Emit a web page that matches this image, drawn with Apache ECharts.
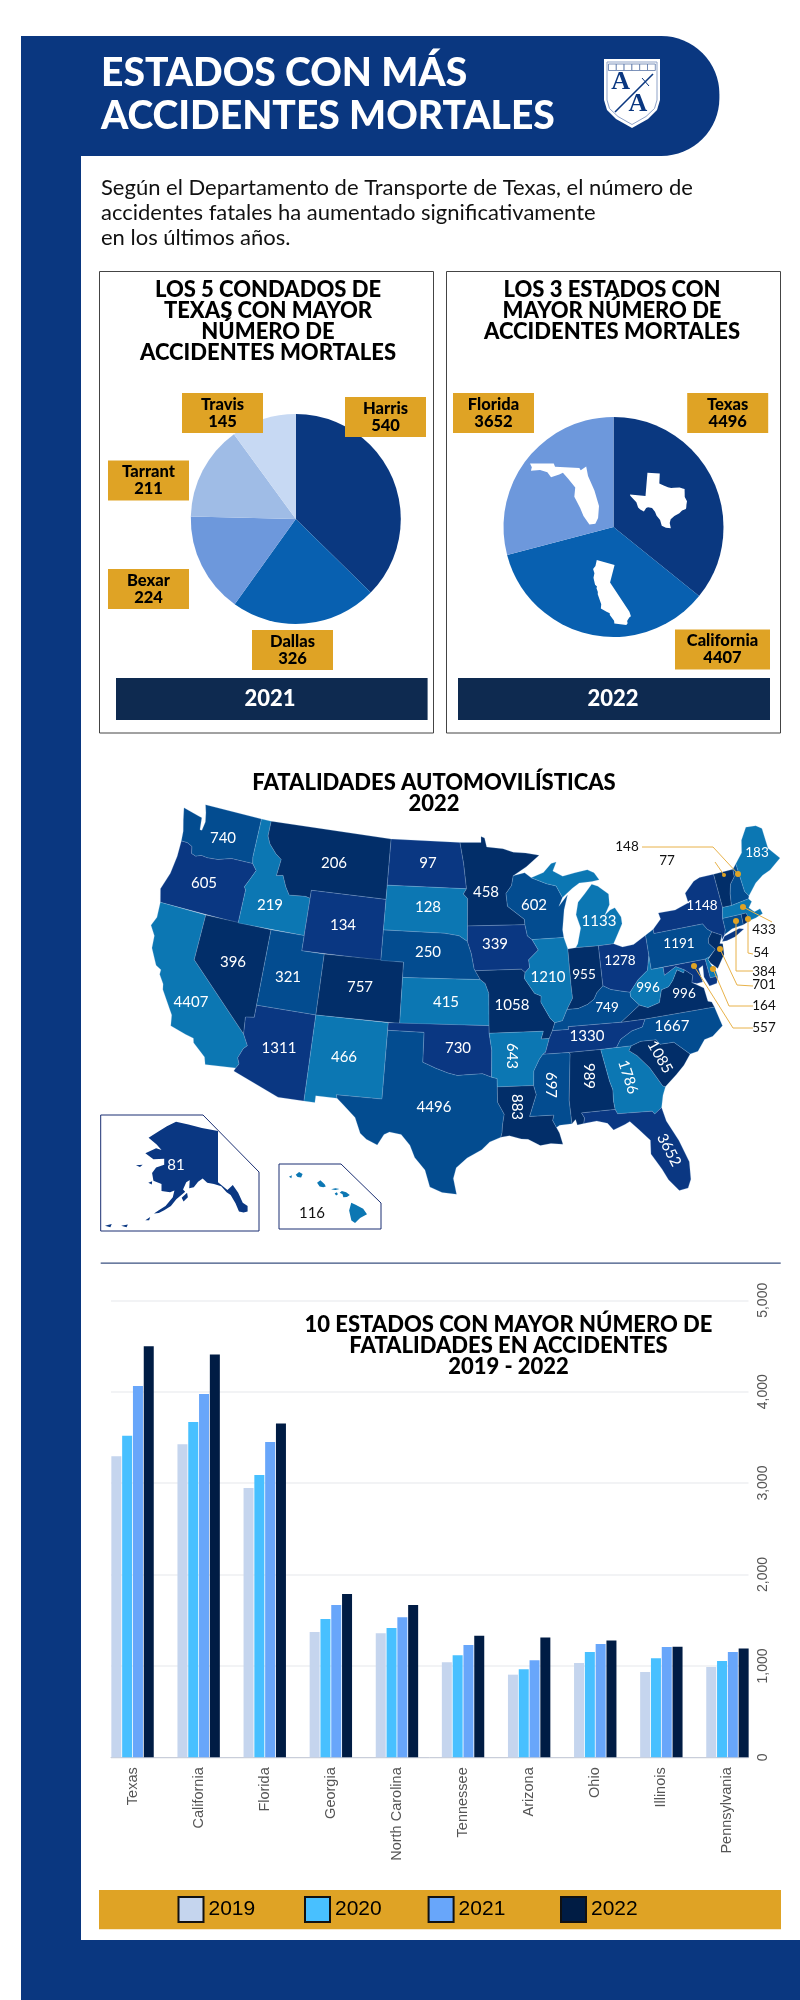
<!DOCTYPE html>
<html>
<head>
<meta charset="utf-8">
<style>
  html, body { margin: 0; padding: 0; background: #fff; }
  #page { width: 800px; height: 2000px; }
</style>
<script src="https://cdn.jsdelivr.net/npm/echarts@6/dist/echarts.min.js"></script>
</head>
<body>
<div id="page"></div>
<script>
// pies
const countyNames = ['Harris', 'Dallas', 'Bexar', 'Tarrant', 'Travis']
const countyValues = [540, 326, 224, 211, 145]
const topStateNames = ['Texas', 'California', 'Florida']
const topStateValues = [4496, 4407, 3652]

// bars
const barStates = ['Texas', 'California', 'Florida', 'Georgia', 'North Carolina', 'Tennessee', 'Arizona', 'Ohio', 'Illinois', 'Pennsylvania']
const years = ['2019', '2020', '2021', '2022']
const fatal2019 = [3293, 3424, 2946, 1371, 1356, 1039, 904, 1032, 933, 988]
const fatal2020 = [3519, 3668, 3088, 1513, 1414, 1116, 963, 1152, 1083, 1053]
const fatal2021 = [4062, 3975, 3449, 1666, 1531, 1229, 1061, 1239, 1207, 1152]
const fatal2022 = [4496, 4407, 3652, 1786, 1667, 1330, 1311, 1278, 1210, 1191]

// map values
const stateNames = ['WA', 'OR', 'CA', 'NV', 'ID', 'MT', 'WY', 'UT', 'AZ', 'CO', 'NM', 'ND', 'SD', 'NE', 'KS', 'OK', 'TX', 'MN', 'IA', 'MO', 'AR', 'LA', 'WI', 'IL', 'MI', 'IN', 'OH', 'KY', 'TN', 'MS', 'AL', 'GA', 'FL', 'SC', 'NC', 'VA', 'WV', 'PA', 'NY', 'VT', 'NH', 'ME', 'MA', 'CT', 'RI', 'NJ', 'DE', 'MD']
const stateValues = [740, 605, 4407, 396, 219, 206, 134, 321, 1311, 757, 466, 97, 128, 250, 415, 730, 4496, 458, 339, 1058, 643, 883, 602, 1210, 1133, 955, 1278, 749, 1330, 697, 989, 1786, 3652, 1085, 1667, 996, 996, 1191, 1148, 77, 148, 183, 433, 384, 54, 701, 164, 557]
const alaskaValue = 81
const hawaiiValue = 116
const calloutStates = ['NH', 'VT', 'MA', 'RI', 'CT', 'NJ', 'DE', 'MD']

const BLUE = '#0A3780'
const GOLD = '#DFA325'
const NAVY = '#0E2A50'
const HEAD = 'Lato, sans-serif'
const SHADE = { l: '#0C77B3', m: '#034C90', n: '#0A3782', d: '#022E69' }
const STATE_SHADE = {
  WA: 'm', OR: 'n', CA: 'l', NV: 'd', ID: 'l', MT: 'd', WY: 'n', UT: 'm', AZ: 'n', CO: 'd', NM: 'l', ND: 'n', SD: 'l', NE: 'm', KS: 'l', OK: 'n', TX: 'm',
  MN: 'd', IA: 'n', MO: 'd', AR: 'l', LA: 'd', WI: 'm', IL: 'l', MI: 'l', IN: 'd', OH: 'n', KY: 'm', TN: 'n', MS: 'm', AL: 'd', GA: 'l', FL: 'n', SC: 'd',
  NC: 'm', VA: 'd', WV: 'l', PA: 'm', NY: 'n', VT: 'd', NH: 'm', ME: 'l', MA: 'l', CT: 'm', RI: 'd', NJ: 'd', DE: 'l', MD: 'n'
}
const LABEL_ROTATE = { AR: -90, LA: -90, MS: -90, AL: -90, GA: -72, SC: -60, FL: -62 }
const SMALL_LABEL = ['IN', 'OH', 'WV', 'VA', 'KY', 'PA', 'NY', 'ME']

// simplified outlines, lon/lat
const OUTLINES = {
  WA: [[[-124.7,48.4],[-123.1,48.15],[-122.75,48.1],[-122.6,47.3],[-122.4,47.3],[-122.3,47.9],[-122.5,48.5],[-122.75,49],[-117.03,49],[-117.04,46.42],[-116.92,46],[-118.98,46],[-119.3,45.93],[-120.2,45.72],[-121.2,45.65],[-121.8,45.7],[-122.3,45.55],[-122.75,45.65],[-122.9,46.1],[-123.4,46.25],[-124,46.25],[-124.1,46.9],[-124.4,47.6]]],
  OR: [[[-124,46.25],[-123.4,46.25],[-122.9,46.1],[-122.75,45.65],[-122.3,45.55],[-121.8,45.7],[-121.2,45.65],[-120.2,45.72],[-119.3,45.93],[-118.98,46],[-116.92,46],[-116.46,45.6],[-116.85,44.95],[-117.2,44.4],[-117.03,44.2],[-117.03,42],[-124.2,42],[-124.55,42.85],[-124.1,44],[-123.95,45.2]]],
  CA: [[[-124.2,42],[-120,42],[-120,39],[-114.63,35],[-114.15,34.3],[-114.43,34.05],[-114.72,33.4],[-114.52,33.03],[-114.72,32.72],[-117.12,32.53],[-117.3,33],[-118.4,33.75],[-118.5,34.03],[-119.2,34.15],[-120.5,34.45],[-120.65,35.15],[-121.9,36.6],[-122,36.95],[-122.5,37.5],[-122.5,37.8],[-123,38],[-123.75,39],[-123.85,39.8],[-124.4,40.4],[-124.1,41]]],
  NV: [[[-120,42],[-114.04,42],[-114.04,36.2],[-114.75,36.1],[-114.63,35],[-120,39]]],
  ID: [[[-117.03,49],[-116.05,49],[-116.05,48],[-115.7,47.5],[-114.95,46.95],[-114.35,46.65],[-114.5,45.55],[-113.9,45.65],[-113.45,44.95],[-113,44.45],[-111.5,44.55],[-111.05,44.48],[-111.05,42],[-117.03,42],[-117.03,44.2],[-117.2,44.4],[-116.85,44.95],[-116.46,45.6],[-116.92,46],[-117.04,46.42]]],
  MT: [[[-116.05,49],[-104.05,49],[-104.05,45],[-111.05,45],[-111.05,44.48],[-111.5,44.55],[-113,44.45],[-113.45,44.95],[-113.9,45.65],[-114.5,45.55],[-114.35,46.65],[-114.95,46.95],[-115.7,47.5],[-116.05,48]]],
  WY: [[[-111.05,45],[-104.05,45],[-104.05,41],[-111.05,41]]],
  UT: [[[-114.04,42],[-111.05,42],[-111.05,41],[-109.05,41],[-109.05,37],[-114.04,37]]],
  AZ: [[[-114.04,37],[-109.05,37],[-109.05,31.33],[-111.07,31.33],[-114.82,32.5],[-114.72,32.72],[-114.52,33.03],[-114.72,33.4],[-114.43,34.05],[-114.15,34.3],[-114.63,35],[-114.75,36.1],[-114.04,36.2]]],
  CO: [[[-109.05,41],[-102.05,41],[-102.05,37],[-109.05,37]]],
  NM: [[[-109.05,37],[-103,37],[-103.05,32],[-106.62,32],[-106.53,31.78],[-108.2,31.78],[-108.2,31.33],[-109.05,31.33]]],
  ND: [[[-104.05,49],[-97.23,49],[-96.85,47.6],[-96.56,45.94],[-104.05,45.94]]],
  SD: [[[-104.05,45.94],[-96.56,45.94],[-96.85,45.6],[-96.45,45.3],[-96.45,43.5],[-96.45,42.49],[-97.2,42.85],[-98.5,43],[-104.05,43]]],
  NE: [[[-104.05,43],[-98.5,43],[-97.2,42.85],[-96.45,42.49],[-96.1,41.7],[-95.85,40.7],[-95.31,40],[-102.05,40],[-102.05,41],[-104.05,41]]],
  KS: [[[-102.05,40],[-95.31,40],[-94.9,39.75],[-94.6,39.1],[-94.62,37],[-102.05,37]]],
  OK: [[[-103,37],[-94.62,37],[-94.62,36.5],[-94.43,35.4],[-94.48,33.64],[-95.2,33.87],[-96.5,33.8],[-97.2,33.75],[-97.95,33.9],[-98.95,34.2],[-100,34.56],[-100,36.5],[-103,36.5]]],
  TX: [[[-103,36.5],[-100,36.5],[-100,34.56],[-98.95,34.2],[-97.95,33.9],[-97.2,33.75],[-96.5,33.8],[-95.2,33.87],[-94.48,33.64],[-94.04,33.55],[-94.04,33],[-94.04,32],[-93.55,31.2],[-93.7,30.5],[-93.75,30],[-93.85,29.7],[-94.7,29.4],[-95.3,28.9],[-96.4,28.35],[-97.2,27.7],[-97.4,27],[-97.15,25.95],[-98.2,26.05],[-99.1,26.4],[-99.5,27.5],[-100.3,28.3],[-100.7,29.1],[-101.4,29.77],[-102.3,29.88],[-102.7,29.7],[-103.15,28.98],[-104,29.3],[-104.5,29.65],[-105,30.65],[-106,31.4],[-106.53,31.78],[-106.62,32],[-103.05,32]]],
  MN: [[[-97.23,49],[-95.15,49],[-95.15,49.4],[-94.8,49.3],[-94.6,48.7],[-93,48.55],[-92,48.3],[-90.8,48.2],[-89.5,48],[-90.8,47.3],[-92.1,46.75],[-92.3,46.1],[-92.85,45.6],[-92.75,44.75],[-91.25,43.85],[-91.22,43.5],[-96.45,43.5],[-96.45,45.3],[-96.85,45.6],[-96.56,45.94],[-96.85,47.6]]],
  IA: [[[-96.45,43.5],[-91.22,43.5],[-91.05,42.75],[-90.65,42.5],[-90.15,41.8],[-91.05,41.2],[-91,40.7],[-91.42,40.38],[-91.73,40.61],[-95.77,40.58],[-95.85,40.7],[-96.1,41.7],[-96.45,42.49]]],
  MO: [[[-95.77,40.58],[-91.73,40.61],[-91.42,40.38],[-91.5,40],[-90.7,39],[-90.15,38.8],[-90.2,38.4],[-89.5,37.3],[-89.15,37],[-89.4,36.5],[-89.7,36],[-90.37,36],[-90.15,36.5],[-94.62,36.5],[-94.62,37],[-94.6,39.1],[-94.9,39.75],[-95.31,40]]],
  AR: [[[-94.62,36.5],[-90.15,36.5],[-90.37,36],[-89.7,36],[-90.07,35.13],[-90.3,35],[-90.6,34.7],[-91.1,33.95],[-91.17,33],[-94.04,33],[-94.04,33.55],[-94.48,33.64],[-94.43,35.4]]],
  LA: [[[-94.04,33],[-91.17,33],[-91,32.4],[-91.6,31],[-89.73,31],[-89.85,30.65],[-89.6,30.18],[-89.4,29.8],[-89.2,29.05],[-90.1,29.15],[-90.9,29.05],[-91.8,29.5],[-92.3,29.55],[-93.2,29.78],[-93.85,29.7],[-93.75,30],[-93.7,30.5],[-93.55,31.2],[-94.04,32]]],
  MS: [[[-90.3,35],[-88.2,35],[-88.1,34.9],[-88.47,31.9],[-88.4,30.35],[-89.35,30.3],[-89.6,30.18],[-89.85,30.65],[-89.73,31],[-91.6,31],[-91,32.4],[-91.17,33],[-91.1,33.95],[-90.6,34.7]]],
  AL: [[[-88.2,35],[-85.6,35],[-85.18,32.87],[-85,32.3],[-85.05,31.55],[-85,31],[-87.6,31],[-87.4,30.65],[-87.5,30.3],[-88,30.23],[-88.1,30.6],[-88.4,30.35],[-88.47,31.9],[-88.1,34.9]]],
  GA: [[[-85.6,35],[-83.1,35],[-83.35,34.7],[-82.75,34.3],[-81.9,33.4],[-81.4,32.6],[-81.1,32.1],[-80.9,32.03],[-81.2,31.5],[-81.45,30.72],[-82.05,30.36],[-82.2,30.57],[-84.86,30.7],[-85,31],[-85.05,31.55],[-85,32.3],[-85.18,32.87]]],
  FL: [[[-87.6,31],[-85,31],[-84.86,30.7],[-82.2,30.57],[-82.05,30.36],[-81.45,30.72],[-81.25,29.8],[-80.55,28.4],[-80.05,26.9],[-80.15,25.75],[-80.45,25.2],[-81.1,25.13],[-81.75,25.95],[-82.1,26.7],[-82.75,27.8],[-82.65,28.7],[-83.4,29.5],[-84,30.1],[-84.4,29.95],[-85.3,29.68],[-85.7,30.15],[-86.5,30.38],[-87.5,30.3],[-87.4,30.65]]],
  SC: [[[-83.35,34.7],[-83.1,35],[-82.3,35.2],[-81.05,35.15],[-80.8,34.82],[-79.67,34.8],[-78.55,33.86],[-79.2,33.2],[-79.9,32.7],[-80.9,32.03],[-81.1,32.1],[-81.4,32.6],[-81.9,33.4],[-82.75,34.3]]],
  NC: [[[-75.87,36.55],[-81.68,36.59],[-82,36.1],[-82.9,35.95],[-83.9,35.5],[-84.32,35],[-83.1,35],[-82.3,35.2],[-81.05,35.15],[-80.8,34.82],[-79.67,34.8],[-78.55,33.86],[-77.9,33.93],[-77.2,34.6],[-76.5,34.7],[-75.55,35.25]]],
  TN: [[[-89.4,36.5],[-88.05,36.5],[-88.07,36.68],[-83.68,36.6],[-81.68,36.59],[-82,36.1],[-82.9,35.95],[-83.9,35.5],[-84.32,35],[-85.6,35],[-88.2,35],[-90.3,35],[-90.07,35.13],[-89.7,36]]],
  KY: [[[-89.4,36.5],[-89.15,37],[-88.5,37.1],[-88.05,37.8],[-87.1,37.8],[-86.3,38],[-85.7,38.3],[-85.4,38.7],[-84.82,39.1],[-84.2,38.8],[-83.3,38.6],[-82.6,38.45],[-82.6,38.15],[-81.97,37.54],[-83.68,36.6],[-88.07,36.68],[-88.05,36.5]]],
  VA: [[[-83.68,36.6],[-81.97,37.54],[-81.3,37.3],[-80.3,37.5],[-79.95,38.3],[-79.3,38.42],[-78.87,38.77],[-78.35,39.4],[-77.83,39.13],[-77.72,39.32],[-77.1,38.85],[-77.3,38.4],[-76.4,37.9],[-76.3,37],[-76,36.9],[-75.87,36.55],[-81.68,36.59]]],
  WV: [[[-81.97,37.54],[-82.6,38.15],[-82.6,38.45],[-81.75,39.2],[-80.85,39.7],[-80.52,40.64],[-80.52,39.72],[-79.48,39.72],[-79.48,39.2],[-78.4,39.62],[-77.72,39.32],[-77.83,39.13],[-78.35,39.4],[-78.87,38.77],[-79.3,38.42],[-79.95,38.3],[-80.3,37.5],[-81.3,37.3]]],
  OH: [[[-84.82,39.1],[-84.8,41.72],[-83.45,41.73],[-82.7,41.45],[-81.7,41.5],[-80.52,41.98],[-80.52,40.64],[-80.85,39.7],[-81.75,39.2],[-82.6,38.45],[-83.3,38.6],[-84.2,38.8]]],
  IN: [[[-87.53,41.72],[-86.82,41.76],[-84.8,41.72],[-84.82,39.1],[-85.4,38.7],[-85.7,38.3],[-86.3,38],[-87.1,37.8],[-88.05,37.8],[-87.5,38.5],[-87.53,39.35]]],
  IL: [[[-90.65,42.5],[-87.8,42.49],[-87.53,41.72],[-87.53,39.35],[-87.5,38.5],[-88.05,37.8],[-88.5,37.1],[-89.15,37],[-89.5,37.3],[-90.2,38.4],[-90.15,38.8],[-90.7,39],[-91.5,40],[-91.42,40.38],[-91,40.7],[-91.05,41.2],[-90.15,41.8]]],
  WI: [[[-92.1,46.75],[-91,46.9],[-90.4,46.55],[-89,46.1],[-88.1,45.9],[-87.6,45.1],[-88,44.55],[-87.1,45.25],[-87.55,44.3],[-87.85,43],[-87.8,42.49],[-90.65,42.5],[-91.05,42.75],[-91.22,43.5],[-91.25,43.85],[-92.75,44.75],[-92.85,45.6],[-92.3,46.1]]],
  MI: [[[-90.4,46.55],[-89.2,46.85],[-88.4,47.4],[-87.9,47.47],[-88.3,46.9],[-87.4,46.5],[-86.2,46.65],[-85,46.75],[-84.4,46.5],[-84,46],[-84.7,45.95],[-85.9,45.95],[-86.6,45.65],[-87.6,45.1],[-88.1,45.9],[-89,46.1]],
       [[-86.82,41.76],[-84.8,41.72],[-83.45,41.73],[-83.15,42.1],[-82.45,42.95],[-82.45,43.4],[-82.9,44.05],[-83.35,43.95],[-83.9,43.65],[-83.35,44.3],[-83.3,45],[-84.2,45.6],[-84.75,45.78],[-85.5,45.2],[-86.2,44.7],[-86.5,43.9],[-86.2,43],[-86.6,42]]],
  PA: [[[-80.52,41.98],[-79.76,42.27],[-79.76,42],[-75.35,42],[-75.05,41.6],[-74.7,41.36],[-75.13,40.97],[-75.2,40.68],[-74.75,40.2],[-75.4,39.8],[-75.79,39.72],[-80.52,39.72],[-80.52,40.64]]],
  NY: [[[-79.76,42.27],[-79.76,42],[-75.35,42],[-75.05,41.6],[-74.7,41.36],[-73.9,41],[-74,40.7],[-73.65,41],[-73.5,41.3],[-73.5,42.05],[-73.27,42.75],[-73.35,45],[-74.7,45],[-75.3,44.85],[-76.3,44.2],[-76.2,43.55],[-77.5,43.25],[-79.05,43.27],[-78.95,42.85]],
       [[-74,40.6],[-73.7,40.9],[-72.3,41.15],[-71.9,41.05],[-72.8,40.7],[-73.6,40.58]]],
  VT: [[[-73.35,45],[-71.5,45],[-71.55,44.5],[-72.05,44.1],[-72.3,43.5],[-72.45,42.73],[-73.27,42.75]]],
  NH: [[[-71.5,45],[-71.1,45.3],[-70.98,43.4],[-70.7,43.05],[-70.82,42.87],[-72.45,42.73],[-72.3,43.5],[-72.05,44.1],[-71.55,44.5]]],
  ME: [[[-71.1,45.3],[-70.3,45.9],[-70,46.7],[-69.25,47.45],[-68.3,47.35],[-67.8,47.07],[-67.8,45.7],[-67,44.85],[-68.2,44.3],[-69,44.1],[-69.8,43.75],[-70.7,43.05],[-70.98,43.4]]],
  MA: [[[-73.27,42.75],[-72.45,42.73],[-70.82,42.87],[-70.6,42.65],[-71,42.3],[-70.6,41.95],[-70.05,42.05],[-69.95,41.7],[-70.65,41.55],[-71.12,41.5],[-71.38,42.02],[-71.8,42.02],[-73.5,42.05]]],
  CT: [[[-73.5,42.05],[-71.8,42.02],[-71.85,41.32],[-72.9,41.25],[-73.65,41],[-73.5,41.3]]],
  RI: [[[-71.8,42.02],[-71.38,42.02],[-71.12,41.5],[-71.85,41.32]]],
  NJ: [[[-74.7,41.36],[-73.9,41],[-74.25,40.5],[-74,40.45],[-74.1,39.75],[-74.9,38.95],[-75.4,39.4],[-75.55,39.65],[-74.75,40.2],[-75.2,40.68],[-75.13,40.97]]],
  DE: [[[-75.79,39.72],[-75.4,39.8],[-75.55,39.65],[-75.4,39.3],[-75.1,38.8],[-75.05,38.45],[-75.7,38.46]]],
  MD: [[[-79.48,39.72],[-75.79,39.72],[-75.7,38.46],[-75.05,38.45],[-75.25,38.03],[-75.9,37.95],[-76.2,38.6],[-76.1,39.35],[-76.5,39.2],[-76.4,38.3],[-76.9,38.28],[-77.3,38.4],[-77.1,38.85],[-77.72,39.32],[-78.4,39.62],[-79.48,39.2]]]
}
const ALASKA = [
  [[-141,69.65],[-141,60.3],[-137.5,58.9],[-135.5,59.8],[-133.5,58.4],[-131.8,56.6],[-130,56],[-130,55],[-131.5,54.8],[-133.2,55],[-134.5,56.5],[-136.3,58],[-137.8,58.5],[-139.8,59.6],[-142.5,60],[-145,60.2],[-146.7,61],[-148.4,60.4],[-150,59.4],[-151.7,59.2],[-151.5,60.8],[-150,61.2],[-152.8,60.3],[-154,59],[-153.2,58.6],[-156.5,57.2],[-158.5,56],[-161,55.2],[-163,54.7],[-164.8,54.6],[-163,55.2],[-160.5,56],[-157.8,57.6],[-157.2,58.8],[-158.8,58.5],[-162,58.7],[-162,60],[-165,60.6],[-165.5,62],[-164,63],[-161,63.5],[-161,64.6],[-165,64.5],[-168,65.6],[-164,66.5],[-162,66.2],[-163.8,67.2],[-166.8,68.4],[-163,69.6],[-160,70.5],[-156.6,71.35],[-152,70.85],[-147,70.2]],
  [[-154.5,57.5],[-152.5,58.4],[-152.2,57.6],[-153.8,56.8]],
  [[-168,53.4],[-166.2,54],[-166.6,53.4]],
  [[-177,52.4],[-174.5,52.6],[-175,52.1]],
  [[-183,52.4],[-180.5,52.7],[-181,52.1]],
  [[-166.9,60.2],[-165.5,60.5],[-165.6,59.9]],
  [[-171.5,63.4],[-169,63.5],[-170,63.1]]
]
const HAWAII = [
  [[-160.25,21.9],[-160.05,22],[-160.08,21.82]],
  [[-159.78,22.05],[-159.55,22.23],[-159.3,22.1],[-159.4,21.88],[-159.65,21.9]],
  [[-158.28,21.55],[-158.05,21.7],[-157.75,21.45],[-157.67,21.3],[-157.85,21.26],[-158.1,21.3]],
  [[-157.3,21.12],[-157,21.2],[-156.72,21.15],[-157,21.08]],
  [[-157.05,20.85],[-156.9,20.93],[-156.82,20.8],[-156.95,20.73]],
  [[-156.7,20.9],[-156.55,21.02],[-156.25,20.93],[-156,20.75],[-156.2,20.62],[-156.45,20.6],[-156.5,20.8]],
  [[-155.9,20.25],[-155.6,20.12],[-155.08,19.85],[-154.82,19.5],[-155.3,19.25],[-155.65,18.93],[-155.9,19.1],[-156.05,19.75]]
]

function albers(lon0, lat0, p1, p2) {
  const rad = Math.PI / 180
  const n = (Math.sin(p1 * rad) + Math.sin(p2 * rad)) / 2
  const c = Math.cos(p1 * rad) ** 2 + 2 * n * Math.sin(p1 * rad)
  const rho0 = Math.sqrt(c - 2 * n * Math.sin(lat0 * rad)) / n
  return {
    project: ([lon, lat]) => {
      const rho = Math.sqrt(c - 2 * n * Math.sin(lat * rad)) / n
      const th = n * (lon - lon0) * rad
      return [rho * Math.sin(th), -(rho0 - rho * Math.cos(th))]
    },
    unproject: ([x, y]) => {
      const yy = rho0 + y
      const rho = Math.sqrt(x * x + yy * yy)
      const th = Math.atan2(x, yy)
      return [lon0 + th / n / rad, Math.asin((c - (rho * n) ** 2) / (2 * n)) / rad]
    }
  }
}
function plate(kx) {
  return {
    project: ([lon, lat]) => [lon * kx, -lat],
    unproject: ([x, y]) => [x / kx, -y]
  }
}
const usProjection = albers(-96, 37.5, 29.5, 45.5)
const alaskaProjection = plate(0.49)
const hawaiiProjection = albers(-157, 20, 18, 24)

const US_BOX = { center: [465.5, 999.5], size: 629 }
const AK_BOX = { center: [176.3, 1174.5], size: 142.6 }
const HI_BOX = { center: [328, 1197.5], size: 78 }

// where each value sits on the page, turned back into lon/lat for the region's cp
const LABEL_AT = {
  WA: [223,838], OR: [204,883], ID: [270,905], MT: [334,863], ND: [428,863], MN: [486,892], WI: [534,905], MI: [599,921], SD: [428,907], WY: [343,925],
  NE: [428,952], IA: [495,944], NV: [233,962], UT: [288,977], CO: [360,987], CA: [191,1002], KS: [446,1002], MO: [512,1005], IL: [548,977], IN: [584,975],
  OH: [620,961], PA: [679,944], NY: [702,906], ME: [757,853], KY: [607,1008], WV: [648,988], VA: [684,994], NC: [672,1026], TN: [587,1036], AZ: [279,1048],
  NM: [344,1057], OK: [458,1048], AR: [512,1056], MS: [551,1085], AL: [589,1076], GA: [628,1077], SC: [660,1057], LA: [517,1107], TX: [434,1107], FL: [669,1150],
  AK: [176,1165], HI: [312,1213]
}
function pageToGeo(at, rings, projection, box) {
  let x0 = Infinity, x1 = -Infinity, y0 = Infinity, y1 = -Infinity
  rings.forEach(ring => ring.forEach(p => {
    const q = projection.project(p)
    x0 = Math.min(x0, q[0]); x1 = Math.max(x1, q[0])
    y0 = Math.min(y0, q[1]); y1 = Math.max(y1, q[1])
  }))
  const k = box.size / Math.max(x1 - x0, y1 - y0)
  return projection.unproject([(x0 + x1) / 2 + (at[0] - box.center[0]) / k, (y0 + y1) / 2 + (at[1] - box.center[1]) / k])
}
const allRings = stateNames.reduce((acc, n) => acc.concat(OUTLINES[n]), [])

function feature(name, rings, cp) {
  return {
    type: 'Feature',
    properties: { name, cp },
    geometry: { type: 'MultiPolygon', coordinates: rings.map(r => [r.concat([r[0]])]) }
  }
}
function registerShape(mapName, features) {
  echarts.registerMap(mapName, { type: 'FeatureCollection', features })
}
registerShape('us48', stateNames.map(n => feature(n, OUTLINES[n], LABEL_AT[n] && pageToGeo(LABEL_AT[n], allRings, usProjection, US_BOX))))
registerShape('alaska', [feature('AK', ALASKA, pageToGeo(LABEL_AT.AK, ALASKA, alaskaProjection, AK_BOX))])
registerShape('hawaii', [feature('HI', HAWAII, pageToGeo(LABEL_AT.HI, HAWAII, hawaiiProjection, HI_BOX))])
registerShape('shapeTX', [feature('TX', OUTLINES.TX)])
registerShape('shapeCA', [feature('CA', OUTLINES.CA)])
registerShape('shapeFL', [feature('FL', OUTLINES.FL)])

function text(str, x, y, font, fill, extra) {
  return Object.assign({
    type: 'text', x, y, silent: true, z: 30,
    style: { text: str, font, fill, align: 'center', verticalAlign: 'middle' }
  }, extra)
}
function leftText(str, x, y, font, fill) {
  return {
    type: 'text', x, y, silent: true, z: 30,
    style: { text: str, font, fill, align: 'left', verticalAlign: 'middle' }
  }
}
function rect(x, y, w, h, fill, extra) {
  return Object.assign({ type: 'rect', silent: true, shape: { x, y, width: w, height: h }, style: { fill } }, extra)
}
function headingLines(lines, cx, top, step, size) {
  return lines.map((l, i) => text(l, cx, top + i * step, `900 ${size}px ${HEAD}`, '#000'))
}

function logo() {
  const ink = BLUE
  const shield = [[604, 59], [660, 59], [660, 100], [657, 110], [648, 119], [632, 128], [616, 119], [607, 110], [604, 100]]
  const inner = [[607, 62], [657, 62], [657, 100], [654.5, 108.5], [646, 116.5], [632, 124.5], [618, 116.5], [609.5, 108.5], [607, 100]]
  const out = [
    { type: 'polygon', silent: true, z: 30, shape: { points: shield }, style: { fill: '#fff' } },
    { type: 'polygon', silent: true, z: 31, shape: { points: inner }, style: { fill: 'none', stroke: '#8FA3C8', lineWidth: 1 } },
    { type: 'line', silent: true, z: 31, shape: { x1: 653, y1: 74, x2: 615, y2: 112 }, style: { stroke: ink, lineWidth: 1.6 } },
    { type: 'line', silent: true, z: 31, shape: { x1: 642, y1: 78, x2: 649, y2: 86 }, style: { stroke: ink, lineWidth: 1 } },
    text('A', 620.7, 82, 'bold 26px "Liberation Serif"', ink, { z: 31 }),
    text('A', 638, 104, 'bold 26px "Liberation Serif"', ink, { z: 31 })
  ]
  for (let i = 0; i < 6; i++) {
    out.push({ type: 'rect', silent: true, z: 31, shape: { x: 608.5 + i * 7.8, y: 64, width: 7.8, height: 6.5 }, style: { fill: '#fff', stroke: '#5C77A8', lineWidth: 0.8 } })
  }
  return out
}

// leader lines for the small north-eastern states
const CALLOUT_LAYOUT = {
  NH: { text: [627, 847], pts: [[642, 847], [713, 847], [738, 874]], r: 3 },
  VT: { text: [667, 861], pts: [[715, 862], [724, 875]], r: 2 },
  MA: { text: [764, 930], pts: [[772, 922], [743, 907]], r: 3 },
  RI: { text: [761, 953], pts: [[753, 954], [748, 953], [748, 919]], r: 3 },
  CT: { text: [764, 972], pts: [[753, 971], [736, 971], [736, 921]], r: 3 },
  NJ: { text: [764, 985], pts: [[753, 986], [737, 985], [720, 949]], r: 3 },
  DE: { text: [764, 1006], pts: [[753, 1006], [729, 1006], [713, 969]], r: 3 },
  MD: { text: [764, 1028], pts: [[753, 1028], [733, 1028], [694, 966]], r: 3 }
}
function callouts() {
  const out = []
  calloutStates.forEach(s => {
    const c = CALLOUT_LAYOUT[s]
    const end = c.pts[c.pts.length - 1]
    out.push({ type: 'polyline', silent: true, z: 30, shape: { points: c.pts }, style: { stroke: '#E8B24A', lineWidth: 1, fill: 'none' } })
    out.push({ type: 'circle', silent: true, z: 31, shape: { cx: end[0], cy: end[1], r: c.r }, style: { fill: GOLD } })
    out.push(text(String(stateValues[stateNames.indexOf(s)]), c.text[0], c.text[1], `13.5px ${HEAD}`, '#111'))
  })
  return out
}

const background = [
  rect(21, 36, 60, 1964, BLUE),
  rect(21, 1940, 779, 60, BLUE),
  { type: 'rect', silent: true, shape: { x: 21, y: 36, width: 698.4, height: 120, r: [0, 58, 58, 0] }, style: { fill: BLUE } },
  { type: 'rect', silent: true, shape: { x: 99.5, y: 271.5, width: 334, height: 461.5 }, style: { fill: '#fff', stroke: '#444', lineWidth: 1 } },
  { type: 'rect', silent: true, shape: { x: 446.5, y: 271.5, width: 334, height: 461.5 }, style: { fill: '#fff', stroke: '#444', lineWidth: 1 } },
  rect(116, 678, 311.6, 42, NAVY),
  rect(458, 678, 312, 42, NAVY),
  rect(100.7, 1262.5, 680, 1.2, '#3A5180'),
  rect(99, 1890, 682, 39.3, GOLD),
  { type: 'polygon', silent: true, shape: { points: [[100.7, 1115], [203, 1115], [259, 1172], [259, 1231], [100.7, 1231]] }, style: { fill: '#fff', stroke: '#1B2F73', lineWidth: 1 } },
  { type: 'polygon', silent: true, shape: { points: [[279, 1164], [341, 1164], [381, 1203], [381, 1229], [279, 1229]] }, style: { fill: '#fff', stroke: '#1B2F73', lineWidth: 1 } }
]

const titleText = [
  leftText('ESTADOS CON MÁS', 101, 73.5, `900 39px ${HEAD}`, '#fff'),
  leftText('ACCIDENTES MORTALES', 101, 116.5, `900 39px ${HEAD}`, '#fff')
]
const introLines = ['Según el Departamento de Transporte de Texas, el número de', 'accidentes fatales ha aumentado significativamente', 'en los últimos años.']
const introText = introLines.map((l, i) => leftText(l, 101, 188 + i * 25, `22px ${HEAD}`, '#111'))

const headings = [].concat(
  headingLines(['LOS 5 CONDADOS DE', 'TEXAS CON MAYOR', 'NÚMERO DE', 'ACCIDENTES MORTALES'], 268, 290, 21, 22),
  headingLines(['LOS 3 ESTADOS CON', 'MAYOR NÚMERO DE', 'ACCIDENTES MORTALES'], 612, 290, 21, 22),
  headingLines(['FATALIDADES AUTOMOVILÍSTICAS', '2022'], 434, 783, 20.5, 22),
  headingLines(['10 ESTADOS CON MAYOR NÚMERO DE', 'FATALIDADES EN ACCIDENTES', '2019 - 2022'], 508.5, 1325, 21, 22),
  [text('2021', 270, 699, `900 22px ${HEAD}`, '#fff'), text('2022', 613, 699, `900 22px ${HEAD}`, '#fff')]
)

const PIE_LABEL_COUNTY = [[385.5, 417], [292.5, 650], [148.5, 589], [148.5, 480.5], [222.5, 413]]
const PIE_LABEL_STATE = [[727.7, 413], [722.5, 649.5], [493.5, 413]]

function pieSeries(names, values, colors, center, radius, labelPos) {
  return {
    type: 'pie',
    center,
    radius,
    startAngle: 90,
    silent: true,
    data: names.map((n, i) => ({
      name: n,
      value: values[i],
      itemStyle: { color: colors[i] },
      label: { width: n === 'California' ? 95 : 81 }
    })),
    labelLine: { show: false },
    label: {
      formatter: '{b}\n{c}',
      fontFamily: HEAD, fontWeight: 900, fontSize: 16.5, color: '#000',
      lineHeight: 17, align: 'center', backgroundColor: GOLD, padding: [3, 0, 3, 0]
    },
    labelLayout: p => ({ x: labelPos[p.dataIndex][0], y: labelPos[p.dataIndex][1], align: 'center', verticalAlign: 'middle' }),
    z: 3
  }
}

function whiteShape(map, projection, center, size) {
  return {
    type: 'map', map, projection, layoutCenter: center, layoutSize: size, silent: true, z: 5,
    showLegendSymbol: false, label: { show: false }, emphasis: { disabled: true },
    itemStyle: { areaColor: '#fff', borderWidth: 0 }, data: []
  }
}

const mapLabel = {
  show: true, formatter: '{c}', color: '#fff', fontFamily: HEAD, fontSize: 15
}
const usSeries = {
  type: 'map', map: 'us48', projection: usProjection,
  layoutCenter: US_BOX.center, layoutSize: US_BOX.size, silent: true, z: 4,
  showLegendSymbol: false,
  label: mapLabel,
  emphasis: { disabled: true },
  itemStyle: { borderColor: 'rgba(170,200,235,0.35)', borderWidth: 0.6 },
  data: stateNames.map((n, i) => ({
    name: n,
    value: stateValues[i],
    itemStyle: { areaColor: SHADE[STATE_SHADE[n]] },
    label: calloutStates.includes(n)
      ? { show: false }
      : { rotate: LABEL_ROTATE[n] || 0, fontSize: SMALL_LABEL.includes(n) ? 13.5 : 15 }
  }))
}
const alaskaSeries = {
  type: 'map', map: 'alaska', projection: alaskaProjection,
  layoutCenter: AK_BOX.center, layoutSize: AK_BOX.size, silent: true, z: 4,
  showLegendSymbol: false,
  label: mapLabel, emphasis: { disabled: true },
  itemStyle: { borderWidth: 0, areaColor: SHADE.n },
  data: [{ name: 'AK', value: alaskaValue }]
}
const hawaiiSeries = {
  type: 'map', map: 'hawaii', projection: hawaiiProjection,
  layoutCenter: HI_BOX.center, layoutSize: HI_BOX.size, silent: true, z: 4,
  showLegendSymbol: false,
  label: Object.assign({}, mapLabel, { color: '#111' }), emphasis: { disabled: true },
  itemStyle: { borderWidth: 0, areaColor: SHADE.l },
  data: [{ name: 'HI', value: hawaiiValue }]
}

const barColors = ['#C5D5EE', '#48C0FF', '#68A6FA', '#001C44']
const barData = [fatal2019, fatal2020, fatal2021, fatal2022]
const barSeries = years.map((y, i) => ({
  name: y, type: 'bar', xAxisIndex: 1, yAxisIndex: 1, barWidth: 10, barGap: '8%',
  itemStyle: { color: barColors[i] }, data: barData[i], silent: true
}))

const legendLeft = [177.5, 304, 427.6, 560]
const legends = years.map((y, i) => ({
  data: [y], left: legendLeft[i], top: 1896, padding: 0, itemWidth: 25, itemHeight: 25, selectedMode: false, icon: 'rect',
  itemStyle: { borderColor: '#111', borderWidth: 2 },
  textStyle: { color: '#000', fontFamily: '"Liberation Sans"', fontSize: 21 }
}))

const chart = echarts.init(document.getElementById('page'), null, { renderer: 'canvas' })
chart.setOption({
  animation: false,
  backgroundColor: '#fff',
  legend: legends,
  grid: [
    { left: 111, right: 51.5, top: 1300.3, height: 457 },
    { left: 99.5, right: 39.5, top: 1300.3, height: 457 }
  ],
  xAxis: [
    { gridIndex: 0, type: 'value', min: 0, max: 1, axisLine: { lineStyle: { color: '#C9CEDA', width: 1 } }, axisTick: { show: false }, axisLabel: { show: false }, splitLine: { show: false } },
    {
      gridIndex: 1, type: 'category', data: barStates, axisLine: { show: false }, axisTick: { show: false },
      axisLabel: { rotate: 90, interval: 0, margin: 10, color: '#555', fontFamily: '"Liberation Sans"', fontSize: 14.5 }
    }
  ],
  yAxis: [
    {
      gridIndex: 0, type: 'value', position: 'right', min: 0, max: 5000, interval: 1000,
      axisLine: { show: false }, axisTick: { show: false },
      splitLine: { lineStyle: { color: '#EEEFF2', width: 1.5 } },
      axisLabel: { rotate: 90, margin: 8, color: '#555', fontFamily: '"Liberation Sans"', fontSize: 14, formatter: v => v.toLocaleString('en-US') }
    },
    { gridIndex: 1, type: 'value', min: 0, max: 5000, show: false }
  ],
  graphic: { elements: [].concat(background, titleText, logo(), introText, headings, callouts()) },
  series: [
    pieSeries(countyNames, countyValues, ['#0A3880', '#0860B0', '#6D98DC', '#9FBCE6', '#C7D9F3'], [295.8, 519], 105, PIE_LABEL_COUNTY),
    pieSeries(topStateNames, topStateValues, ['#0A3880', '#0860B0', '#6D98DC'], [613.5, 527], 110, PIE_LABEL_STATE),
    whiteShape('shapeTX', usProjection, [658.5, 500.5], 57),
    whiteShape('shapeCA', usProjection, [612, 592.5], 65),
    whiteShape('shapeFL', plate(0.88), [564.5, 494], 69),
    usSeries, alaskaSeries, hawaiiSeries
  ].concat(barSeries)
})
</script>
</body>
</html>
